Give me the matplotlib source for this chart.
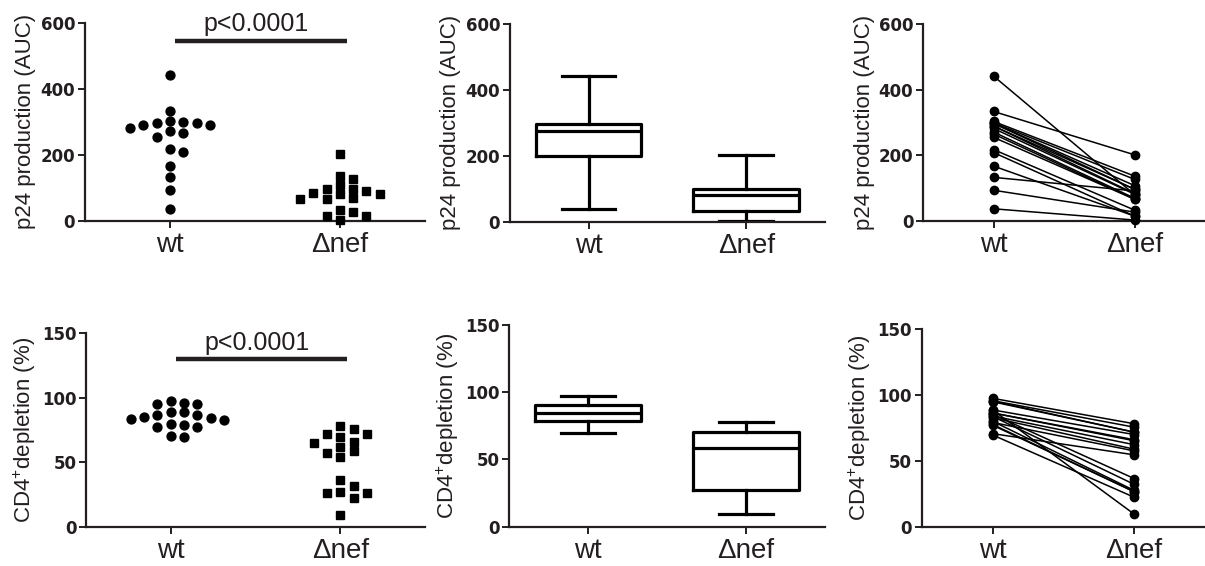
import numpy as np
import matplotlib
matplotlib.use("Agg")
import matplotlib.pyplot as plt

matplotlib.rcParams["mathtext.fontset"] = "custom"
matplotlib.rcParams["mathtext.rm"] = "Liberation Sans"
matplotlib.rcParams["mathtext.default"] = "regular"

INK = "#231f20"

groups = ["wt", "\u0394nef"]

# p24 production (AUC), paired donors (wt[i] <-> dnef[i])
p24_wt = [441.7, 333.8, 303.5, 299.5, 297.5, 297.5, 289.4, 289.4, 282.0,
          271.2, 265.0, 255.0, 217.8, 208.7, 167.4, 133.0, 93.8, 37.3]
p24_dnef = [80.7, 201.7, 137.0, 127.0, 108.0, 96.8, 96.8, 83.7, 81.7,
            69.6, 66.5, 66.5, 33.3, 15.1, 15.1, 91.8, 27.2, 3.0]

# CD4+ depletion (%), paired donors
cd4_wt = [97.4, 95.6, 95.3, 94.8, 88.6, 88.6, 86.3, 86.3, 85.3,
          84.0, 83.7, 82.7, 80.0, 79.1, 77.6, 77.0, 70.6, 69.6]
cd4_dnef = [78.1, 75.5, 71.7, 71.7, 69.9, 9.5, 66.0, 65.2, 36.5,
            62.2, 32.1, 58.8, 27.5, 57.5, 26.5, 26.5, 54.5, 22.3]

p24_ticks = [0, 200, 400, 600]
cd4_ticks = [0, 50, 100, 150]
p_text = "p<0.0001"


def style_axes(ax, ymax, ticks, ylabel):
    ax.set_xlim(-0.5, 1.5)
    ax.set_ylim(0, ymax)
    for s in ["top", "right"]:
        ax.spines[s].set_visible(False)
    for s in ["left", "bottom"]:
        ax.spines[s].set_linewidth(1.6)
        ax.spines[s].set_color(INK)
    ax.set_yticks(ticks)
    ax.set_yticklabels([str(t) for t in ticks], fontsize=12,
                       fontweight="bold", family="DejaVu Sans", color=INK)
    ax.set_xticks([0, 1])
    ax.set_xticklabels(groups, fontsize=20, family="Liberation Sans", color=INK)
    ax.tick_params(axis="both", direction="out", length=5, width=1.4,
                   color=INK, pad=2)
    ax.tick_params(axis="x", pad=3)
    ax.set_ylabel(ylabel, fontsize=16, family="Liberation Sans", color=INK,
                  labelpad=3)


def swarm(ax, vals, xc, diam_px=9.0, step_px=13.3):
    vals = np.asarray(vals)
    order = np.argsort(vals)[::-1]
    placed = []
    slots = np.zeros(len(vals))
    for i in order:
        y = ax.transData.transform((0, vals[i]))[1]
        for s in [0, 1, -1, 2, -2, 3, -3, 4, -4, 5, -5]:
            if all(abs(y - yp) >= diam_px for sp, yp in placed if sp == s):
                break
        placed.append((s, y))
        slots[i] = s
    px_per_x = ax.bbox.width / 2.0
    return xc + slots * step_px / px_per_x


def box_stats(vals):
    v = np.asarray(vals)
    q1, med, q3 = np.percentile(v, [25, 50, 75], method="weibull")
    return dict(med=med, q1=q1, q3=q3, whislo=v.min(), whishi=v.max(),
                fliers=[])


fig = plt.figure(figsize=(12.05, 5.66), dpi=100)

rows = [
    dict(wt=p24_wt, dn=p24_dnef, ymax=600, ticks=p24_ticks,
         label="p24 production (AUC)", bar_y=546, txt_y=560,
         pos=[[0.0705, 0.6095, 0.282, 0.3504],
              [0.4232, 0.6083, 0.2614, 0.3493],
              [0.7660, 0.6095, 0.2340, 0.3480]]),
    dict(wt=cd4_wt, dn=cd4_dnef, ymax=150, ticks=cd4_ticks,
         label="CD4$^{+}$depletion (%)", bar_y=129.4, txt_y=132.5,
         pos=[[0.0714, 0.0684, 0.2813, 0.3438],
              [0.4224, 0.0695, 0.2622, 0.3564],
              [0.7649, 0.0695, 0.2351, 0.3493]]),
]

for r in rows:
    # column scatter
    ax = fig.add_axes(r["pos"][0])
    style_axes(ax, r["ymax"], r["ticks"], r["label"])
    xw = swarm(ax, r["wt"], 0)
    xd = swarm(ax, r["dn"], 1, diam_px=8.5)
    ax.plot(xw, r["wt"], "o", ms=6.4, color="black", clip_on=False, zorder=3)
    ax.plot(xd, r["dn"], "s", ms=5.9, color="black", clip_on=False, zorder=3)
    ax.plot([0.03, 1.04], [r["bar_y"], r["bar_y"]], color=INK, lw=3.2,
            solid_capstyle="butt", clip_on=False)
    ax.text(0.51, r["txt_y"], p_text, ha="center", va="bottom", fontsize=18,
            family="Liberation Sans", color=INK, clip_on=False)

    # box and whiskers (min to max)
    ax = fig.add_axes(r["pos"][1])
    style_axes(ax, r["ymax"], r["ticks"], r["label"])
    lp = dict(color="black", linewidth=2.3)
    ax.bxp([box_stats(r["wt"]), box_stats(r["dn"])], positions=[0, 1],
           widths=0.67, capwidths=0.34, showfliers=False,
           boxprops=lp, whiskerprops=lp, capprops=lp, medianprops=lp,
           manage_ticks=False)
    ax.set_xticks([0, 1])
    ax.set_xticklabels(groups, fontsize=20, family="Liberation Sans", color=INK)

    # before-after lines
    ax = fig.add_axes(r["pos"][2])
    style_axes(ax, r["ymax"], r["ticks"], r["label"])
    for a, b in zip(r["wt"], r["dn"]):
        ax.plot([0, 1], [a, b], "-o", color="black", lw=1.1, ms=6,
                clip_on=False, zorder=3)

fig.savefig("out.png", dpi=100)
